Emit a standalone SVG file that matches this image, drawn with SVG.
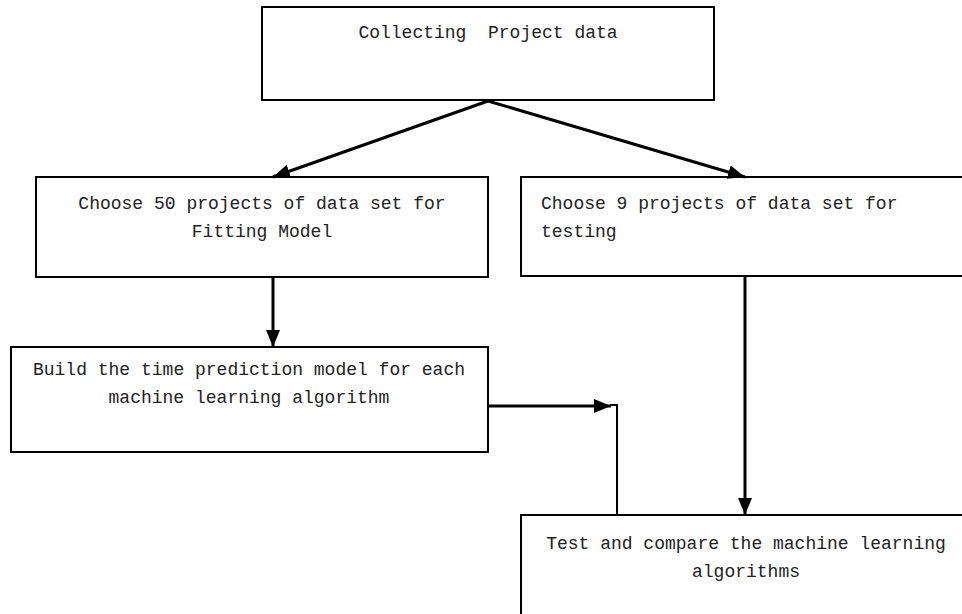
<svg xmlns="http://www.w3.org/2000/svg" width="962" height="614" viewBox="0 0 962 614">
<style>
.box{fill:#fff;stroke:#000;stroke-width:2}
.t{font-family:"Liberation Mono","Noto Sans CJK SC",monospace;font-size:18px;fill:#222}
.c{text-anchor:middle}
.arr{stroke:#000;stroke-width:3;fill:none;marker-end:url(#ah)}
.thin{stroke:#000;stroke-width:2;fill:none}
</style>
<defs>
<marker id="ah" markerUnits="userSpaceOnUse" markerWidth="18" markerHeight="16" refX="17" refY="8" orient="auto" viewBox="0 0 18 16">
<path d="M0,1 L17,8 L0,15 z" fill="#000"/>
</marker>
</defs>
<rect width="962" height="614" fill="#fff"/>
<g id="n1"><rect class="box" x="262" y="7" width="452" height="93"/><text class="t c" x="488" y="38" xml:space="preserve">Collecting  Project data</text></g>
<g id="n2"><rect class="box" x="36" y="177" width="452" height="100"/><text class="t c" x="262" y="209">Choose 50 projects of data set for</text><text class="t c" x="262" y="237">Fitting Model</text></g>
<g id="n3"><rect class="box" x="521" y="177" width="460" height="99"/><text class="t" x="541" y="209">Choose 9 projects of data set for</text><text class="t" x="541" y="237">testing</text></g>
<g id="n4"><rect class="box" x="11" y="347" width="477" height="105"/><text class="t c" x="249" y="375">Build the time prediction model for each</text><text class="t c" x="249" y="403">machine learning algorithm</text></g>
<g id="n5"><rect class="box" x="521" y="515" width="460" height="120"/><text class="t c" x="746" y="549">Test and compare the machine learning</text><text class="t c" x="746" y="577">algorithms</text></g>
<g id="connectors">
<line class="arr" x1="488" y1="101" x2="273" y2="177"/>
<line class="arr" x1="488" y1="101" x2="745" y2="177"/>
<line class="arr" x1="273" y1="277" x2="273" y2="347"/>
<line class="arr" x1="745" y1="276" x2="745" y2="515"/>
<line class="arr" x1="488" y1="406" x2="611" y2="406"/>
<polyline class="thin" points="617,515 617,405 610,405"/>
</g>
</svg>
